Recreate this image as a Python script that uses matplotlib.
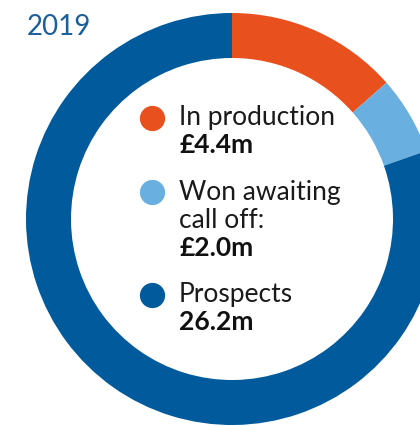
import matplotlib
matplotlib.use("Agg")
import matplotlib.pyplot as plt

# pipeline split, £m
labels = [["In production"], ["Won awaiting", "call off:"], ["Prospects"]]
amounts = ["£4.4m", "£2.0m", "26.2m"]
values = [4.4, 2.0, 26.2]
colors = ["#E8511E", "#69B0E1", "#005A9B"]
year = "2019"

plt.rcParams["font.family"] = ["Lato", "DejaVu Sans"]

fig = plt.figure(figsize=(4.2, 4.26), dpi=100)
ax = fig.add_axes([0, 0, 1, 1])

H = 426
ax.pie(values, colors=colors, startangle=90, counterclock=False,
       center=(232, H - 219), radius=206,
       wedgeprops=dict(width=45, linewidth=0))
ax.set_xlim(0, 420)
ax.set_ylim(0, H)
ax.set_aspect("equal")
ax.axis("off")

ax.text(27, H - 35, year, color="#1B5F9C", fontsize=20, va="baseline")

# legend inside the ring, one text per line
dot_y = [118, 192, 295]
first_base = [125, 200, 302]
step = 28
for lines, amt, c, dy, by in zip(labels, amounts, colors, dot_y, first_base):
    ax.scatter([152], [H - dy], s=330, color=c, linewidths=0, zorder=3)
    for i, line in enumerate(lines):
        ax.text(179, H - by - step * i, line, fontsize=19, color="#1a1a1a",
                va="baseline")
    ax.text(179, H - by - step * len(lines), amt, fontsize=19,
            fontweight="bold", color="#111111", va="baseline")

fig.savefig("out.png", dpi=100)
